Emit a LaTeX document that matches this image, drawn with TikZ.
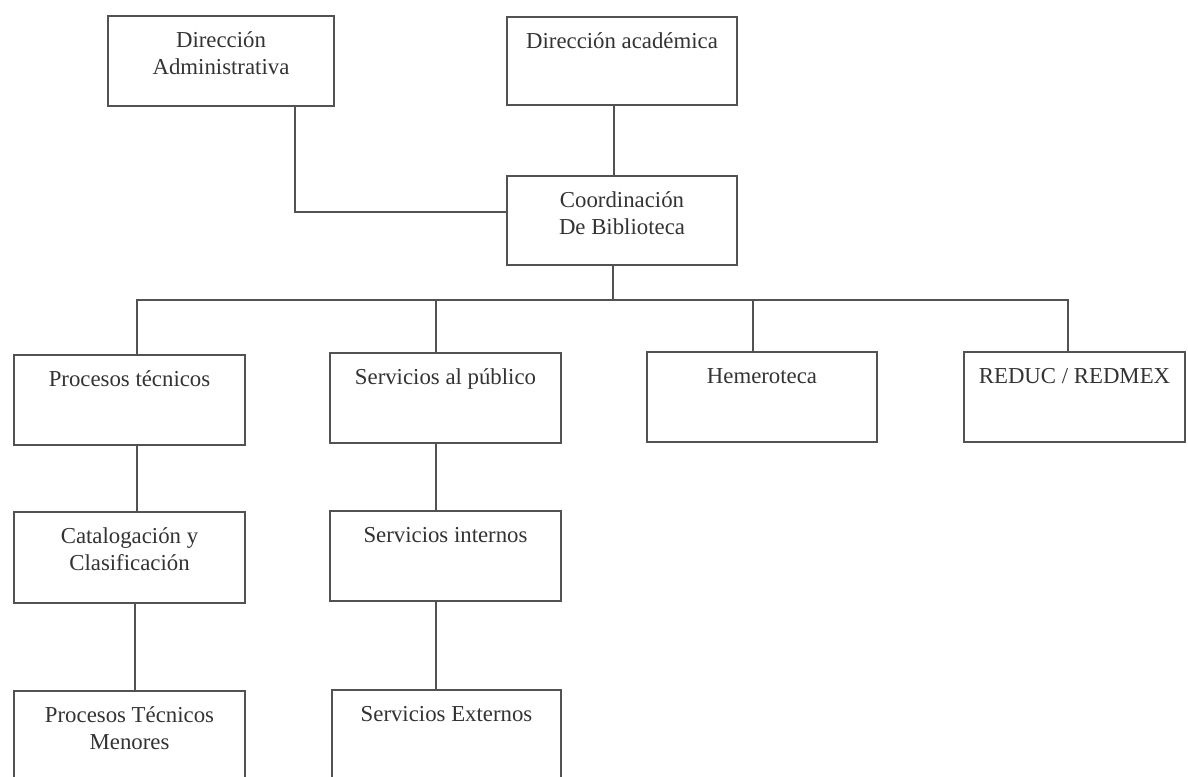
\documentclass[tikz,border=0pt]{standalone}
\usepackage{fontspec}
\setmainfont{Liberation Serif}
\newcommand{\bt}[3]{\parbox[c][#2][t]{#1}{\centering\rule{0pt}{31pt}#3}}
\tikzset{
  box/.style={draw=black!68, line width=1.8pt, inner sep=0pt, text=black!80,
    font=\fontsize{22.8pt}{27pt}\selectfont},
  conn/.style={draw=black!68, line width=1.8pt}
}
\begin{document}
\begin{tikzpicture}[x=1pt,y=-1pt]
\useasboundingbox (0,0) rectangle (1188,776);
\fill[white] (0,0) rectangle (1188,776);
\clip (0,0) rectangle (1188,776);
% top row
\node[box] (da) at (221,61) {\bt{226pt}{90pt}{Dirección\\Administrativa}};
\node[box] (dac) at (622,61) {\bt{230pt}{88pt}{Dirección académica}};
\node[box] (coord) at (622,220.5) {\bt{230pt}{89pt}{Coordinación\\De Biblioteca}};
% second row
\node[box] (pt) at (129.5,400) {\bt{231pt}{90pt}{Procesos técnicos}};
\node[box] (sp) at (445.5,398) {\bt{231pt}{90pt}{Servicios al público}};
\node[box] (hem) at (762,397) {\bt{230pt}{90pt}{Hemeroteca}};
\node[box] (red) at (1074.5,397) {\bt{221pt}{90pt}{REDUC / REDMEX}};
% third row
\node[box] (cc) at (129.5,557.5) {\bt{231pt}{91pt}{Catalogación y\\Clasificación}};
\node[box] (si) at (445.5,556) {\bt{231pt}{90pt}{Servicios internos}};
% fourth row
\node[box] (ptm) at (129.5,736) {\bt{231pt}{90pt}{Procesos Técnicos\\Menores}};
\node[box] (se) at (446.5,735) {\bt{229pt}{90pt}{Servicios Externos}};
% connectors
\coordinate (bus) at (613,300);
\draw[conn] ([xshift=74pt]da.south) |- ([yshift=8.5pt]coord.west);
\draw[conn] ([xshift=-8pt]dac.south) -- ([xshift=-8pt]coord.north);
\draw[conn] ([xshift=-9pt]coord.south) -- (bus);
\draw[conn] ([xshift=7.5pt]pt.north) |- (bus) -| ([xshift=-6.5pt]red.north);
\draw[conn] ([xshift=-9.5pt]sp.north) -- ([xshift=-9.5pt]sp.north |- bus);
\draw[conn] ([xshift=-9pt]hem.north) -- ([xshift=-9pt]hem.north |- bus);
\draw[conn] ([xshift=7.5pt]pt.south) -- ([xshift=7.5pt]pt.south |- cc.north);
\draw[conn] ([xshift=5.5pt]cc.south) -- ([xshift=5.5pt]cc.south |- ptm.north);
\draw[conn] ([xshift=-9.5pt]sp.south) -- ([xshift=-9.5pt]sp.south |- si.north);
\draw[conn] ([xshift=-9.5pt]si.south) -- ([xshift=-9.5pt]si.south |- se.north);
\end{tikzpicture}
\end{document}
